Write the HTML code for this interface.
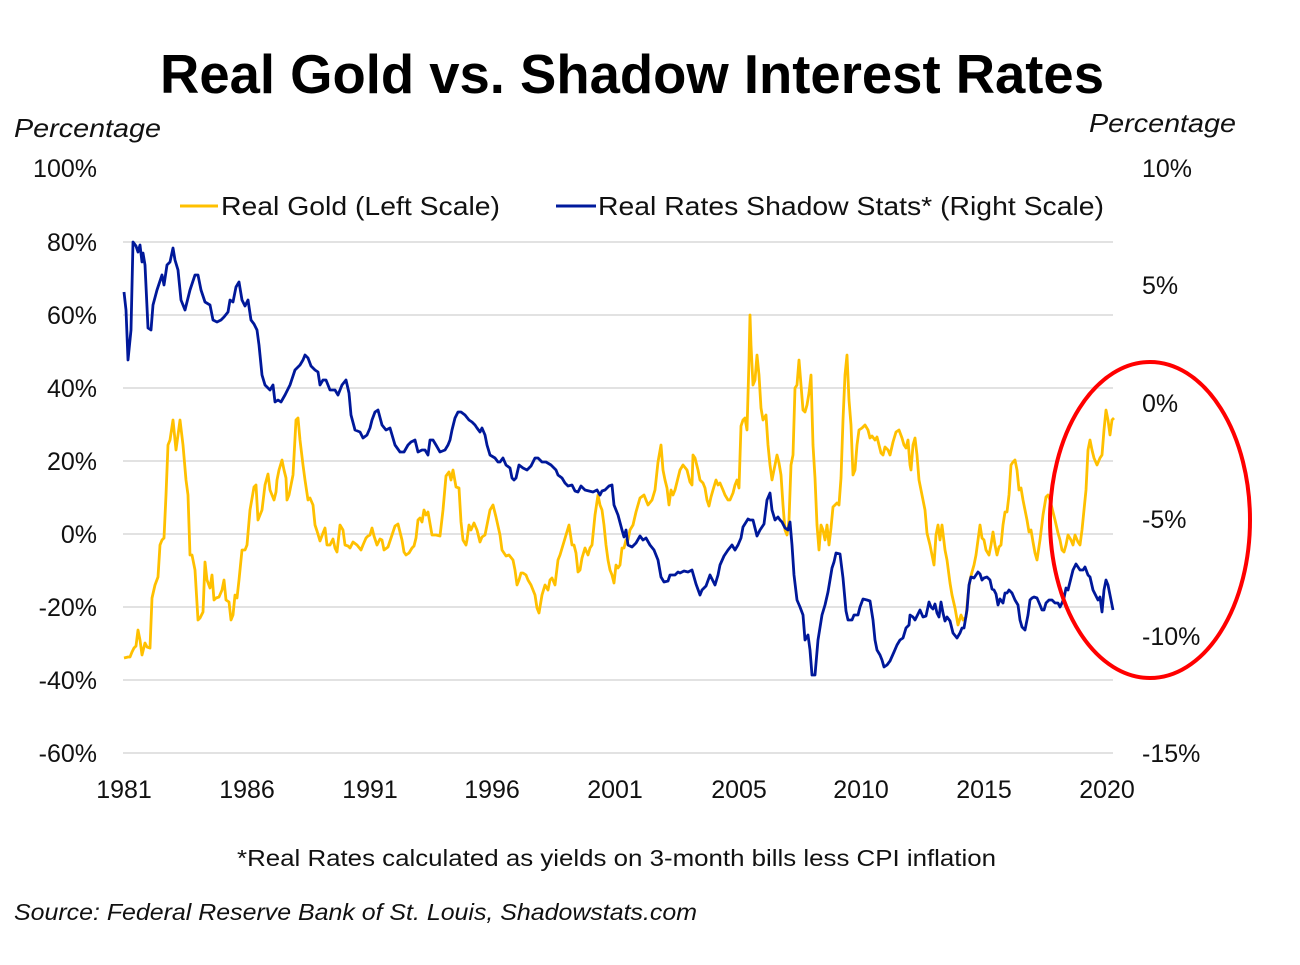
<!DOCTYPE html>
<html><head><meta charset="utf-8"><style>
body{margin:0;background:#fff;}
svg{display:block;font-family:"Liberation Sans",sans-serif;}
</style></head><body>
<svg width="1300" height="965" viewBox="0 0 1300 965">
<text x="160" y="93" font-size="55" font-weight="bold" fill="#000" textLength="944" lengthAdjust="spacingAndGlyphs">Real Gold vs. Shadow Interest Rates</text>
<text x="14" y="137" font-size="26" font-style="italic" fill="#111" textLength="147" lengthAdjust="spacingAndGlyphs">Percentage</text>
<text x="1089" y="132" font-size="26" font-style="italic" fill="#111" textLength="147" lengthAdjust="spacingAndGlyphs">Percentage</text>
<g stroke="#d9d9d9" stroke-width="1.5">
<line x1="123" y1="242" x2="1113" y2="242"/><line x1="123" y1="315" x2="1113" y2="315"/>
<line x1="123" y1="388" x2="1113" y2="388"/><line x1="123" y1="461" x2="1113" y2="461"/>
<line x1="123" y1="534" x2="1113" y2="534"/><line x1="123" y1="607" x2="1113" y2="607"/>
<line x1="123" y1="680" x2="1113" y2="680"/><line x1="123" y1="753" x2="1113" y2="753"/>
</g>
<g font-size="25" fill="#111" text-anchor="end">
<text x="97" y="177">100%</text><text x="97" y="251">80%</text><text x="97" y="324">60%</text>
<text x="97" y="397">40%</text><text x="97" y="470">20%</text><text x="97" y="543">0%</text>
<text x="97" y="616">-20%</text><text x="97" y="689">-40%</text><text x="97" y="762">-60%</text>
</g>
<g font-size="25" fill="#111">
<text x="1142" y="177">10%</text><text x="1142" y="294">5%</text><text x="1142" y="412">0%</text>
<text x="1142" y="528">-5%</text><text x="1142" y="645">-10%</text><text x="1142" y="762">-15%</text>
</g>
<g font-size="25" fill="#111" text-anchor="middle">
<text x="124" y="798">1981</text><text x="247" y="798">1986</text><text x="370" y="798">1991</text>
<text x="492" y="798">1996</text><text x="615" y="798">2001</text><text x="739" y="798">2005</text>
<text x="861" y="798">2010</text><text x="984" y="798">2015</text><text x="1107" y="798">2020</text>
</g>
<line x1="180" y1="206" x2="218" y2="206" stroke="#ffc000" stroke-width="3"/>
<text x="221" y="215" font-size="26" fill="#111" textLength="279" lengthAdjust="spacingAndGlyphs">Real Gold (Left Scale)</text>
<line x1="556" y1="206" x2="596" y2="206" stroke="#001a9c" stroke-width="3"/>
<text x="598" y="215" font-size="26" fill="#111" textLength="506" lengthAdjust="spacingAndGlyphs">Real Rates Shadow Stats* (Right Scale)</text>
<polyline fill="none" stroke="#ffc000" stroke-width="2.8" stroke-linejoin="round" points="124,658 128,657 130,657 132,652 134,648 136,646 138,630 140,640 142,655 145,643 147,647 150,648 152,598 155,585 158,577 160,545 162,540 164,538 166,495 168,445 170,440 173,420 176,450 180,420 183,445 186,480 188,495 190,555 192,555 195,570 198,620 200,618 203,612 205,562 207,580 210,588 212,575 214,600 216,598 219,597 222,590 224,580 226,600 229,602 231,620 233,615 235,595 237,598 239,580 242,550 245,550 247,545 250,510 254,487 256,485 258,520 260,515 262,510 265,485 268,474 270,490 272,495 274,500 276,492 277,480 279,470 282,460 284,470 286,478 287,500 289,495 291,485 293,475 296,420 298,418 300,440 303,465 305,480 308,500 310,498 313,505 315,525 317,531 320,541 323,533 325,528 327,545 330,545 333,539 335,548 337,552 340,525 343,530 345,545 348,546 350,548 353,542 357,545 361,550 363,545 366,538 368,536 370,535 372,528 374,536 377,545 380,539 382,540 384,550 388,547 391,538 393,532 395,526 398,524 400,532 402,540 404,552 406,555 409,553 412,548 414,546 416,538 418,520 420,518 422,522 424,510 426,515 428,512 432,535 436,535 440,536 443,510 446,476 449,472 451,480 453,470 456,487 459,488 461,522 463,540 466,545 467,540 469,525 471,530 474,523 477,530 480,542 482,537 485,535 487,525 490,510 493,505 496,517 500,535 502,550 506,556 509,555 513,560 515,570 517,585 519,580 521,573 523,573 526,575 528,580 531,585 533,590 535,595 537,608 539,613 542,595 545,585 548,590 550,580 552,578 555,585 558,560 560,555 563,545 566,535 569,525 572,545 574,545 576,553 578,572 580,570 582,558 585,548 588,555 590,548 592,545 595,515 598,495 600,505 602,510 604,525 606,545 608,560 610,570 612,575 614,583 616,565 618,568 620,565 622,548 624,548 626,540 628,540 630,530 633,525 636,512 640,498 644,495 648,505 652,500 655,490 658,462 661,445 663,470 665,480 667,488 669,505 671,490 673,495 675,490 680,470 683,465 687,470 690,482 692,485 693,455 695,458 698,470 700,480 703,483 705,488 707,500 709,506 711,497 713,490 716,480 718,485 720,483 723,490 725,495 728,500 730,500 733,493 735,485 737,480 739,488 741,426 743,420 745,418 747,430 749,360 750,315 751,345 753,385 755,380 757,355 759,375 761,408 763,420 766,415 768,445 770,465 772,480 774,470 777,455 779,463 781,475 783,505 785,530 787,535 789,520 791,465 793,455 795,388 797,385 799,360 801,385 803,410 805,412 807,405 809,393 811,375 813,445 815,478 817,525 819,550 821,525 823,530 825,540 827,525 829,545 831,528 833,507 835,505 837,503 839,505 841,478 843,420 845,375 847,355 849,400 851,425 853,475 855,470 857,445 859,430 862,428 865,425 868,430 870,438 872,436 875,440 877,437 879,445 881,453 883,455 885,447 888,450 890,455 893,442 896,432 899,430 902,438 904,445 906,448 908,440 910,465 911,470 913,445 915,438 917,455 919,480 921,490 923,500 925,510 927,533 930,545 932,555 934,565 936,535 938,525 940,540 942,525 945,550 947,560 950,583 952,595 955,608 958,625 961,615 963,620 966,617 968,595 970,580 972,572 974,565 976,555 980,525 982,538 984,540 986,550 989,555 991,545 993,532 995,545 997,555 999,547 1001,545 1003,525 1005,512 1007,512 1009,495 1011,465 1013,462 1015,460 1017,470 1019,490 1021,488 1023,500 1025,510 1027,520 1029,532 1031,530 1033,542 1035,553 1037,560 1040,540 1043,515 1046,497 1048,495 1050,500 1052,508 1055,520 1058,533 1060,540 1062,550 1064,552 1066,545 1068,535 1071,540 1073,545 1075,535 1078,542 1080,545 1082,530 1084,510 1086,490 1088,450 1090,440 1092,450 1094,458 1097,465 1100,458 1102,455 1104,430 1106,410 1108,420 1110,435 1112,420 1114,418"/>
<polyline fill="none" stroke="#00189a" stroke-width="2.8" stroke-linejoin="round" points="124,292 126,310 128,360 131,330 133,242 136,246 138,252 140,245 142,262 143,253 145,265 148,328 151,330 153,305 157,290 162,275 164,285 167,265 170,262 173,248 175,260 178,270 181,300 185,310 190,290 195,275 198,275 201,290 205,302 210,305 213,320 217,322 221,320 224,317 228,312 230,300 233,302 236,287 239,282 242,300 245,306 248,300 251,320 254,324 257,330 259,345 262,375 265,385 270,390 273,385 275,402 278,400 281,402 285,395 290,385 295,370 300,365 303,360 305,355 308,358 311,366 315,370 318,372 320,385 323,380 326,380 330,390 335,390 338,395 342,385 346,380 349,393 351,415 355,430 360,432 363,438 367,435 370,428 372,420 375,412 378,410 382,425 386,430 390,428 395,445 400,452 404,452 408,445 411,442 415,440 418,452 422,450 425,450 428,455 430,440 433,440 436,445 440,452 445,450 448,445 450,440 452,430 455,418 458,412 461,412 465,415 469,420 472,422 475,425 477,428 480,432 482,428 485,435 487,445 490,455 495,458 498,462 500,462 503,458 506,465 510,468 512,478 514,480 516,478 519,465 523,468 527,470 531,466 535,458 538,458 542,462 546,462 551,465 556,470 558,475 562,478 565,483 568,486 572,485 575,491 578,492 581,486 585,490 589,491 593,492 597,490 600,495 602,491 605,490 609,486 612,485 614,505 618,515 622,530 624,537 626,530 628,545 632,547 636,543 640,536 643,540 646,538 650,545 654,550 658,560 661,577 664,582 668,581 670,575 675,575 678,572 680,573 684,571 688,572 692,570 696,584 700,595 702,590 706,586 710,575 715,585 718,575 720,565 724,556 728,550 732,545 735,550 738,545 741,538 743,527 748,519 750,520 753,520 757,536 760,530 764,524 767,500 770,493 772,510 775,520 778,517 780,520 782,522 785,528 788,530 790,522 792,545 794,575 797,600 800,607 803,615 805,640 808,635 810,650 812,675 815,675 818,640 822,615 825,605 828,592 830,580 832,568 834,562 836,553 840,554 843,578 846,611 848,620 852,620 854,615 858,615 860,607 863,599 867,600 870,601 873,620 875,640 877,650 880,655 882,660 884,667 887,665 890,661 894,652 897,645 900,640 903,638 906,628 909,625 910,615 913,617 915,620 918,614 920,610 923,617 926,616 929,602 931,607 933,609 935,604 937,613 939,617 941,602 943,613 945,621 947,617 950,621 953,633 957,638 960,633 962,628 964,628 967,610 969,585 971,577 974,578 976,575 978,572 980,574 982,580 984,578 987,577 990,580 992,589 994,590 996,594 998,605 1000,599 1003,603 1005,593 1007,593 1009,590 1012,593 1015,600 1018,605 1020,620 1022,627 1025,630 1028,615 1030,600 1032,598 1034,597 1037,598 1040,605 1042,610 1044,610 1046,603 1049,600 1052,600 1055,603 1058,603 1060,607 1062,603 1064,598 1066,588 1068,590 1070,582 1073,570 1076,564 1078,567 1080,570 1083,570 1085,567 1088,575 1090,577 1093,590 1096,596 1098,600 1100,597 1102,612 1104,590 1106,580 1108,585 1111,600 1113,610"/>
<ellipse cx="1150" cy="520" rx="100" ry="158" fill="none" stroke="#ff0000" stroke-width="4"/>
<text x="237" y="866" font-size="23" fill="#111" textLength="759" lengthAdjust="spacingAndGlyphs">*Real Rates calculated as yields on 3-month bills less CPI inflation</text>
<text x="14" y="920" font-size="23" font-style="italic" fill="#111" textLength="683" lengthAdjust="spacingAndGlyphs">Source: Federal Reserve Bank of St. Louis, Shadowstats.com</text>
</svg>
</body></html>
